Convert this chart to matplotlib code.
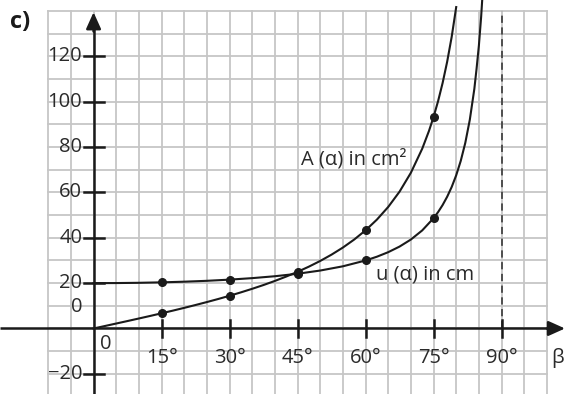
import matplotlib
matplotlib.use("Agg")
import matplotlib.pyplot as plt

plt.rcParams['font.family'] = ['Open Sans', 'DejaVu Sans']

# Marked points
alpha_pts = [15, 30, 45, 60, 75]
area_pts = [6.7, 14.4, 25.0, 43.3, 93.3]
perim_pts = [20.4, 21.5, 24.1, 30.0, 48.6]

# Curve samples
alpha_area = [0, 2.5, 5, 7.5, 10, 12.5, 15, 17.5, 20, 22.5, 25, 27.5, 30, 32.5, 35, 37.5,
              40, 42.5, 45, 47.5, 50, 52.5, 55, 57.5, 60, 62.5, 65, 67.5, 70, 72.5, 74, 75,
              76, 77, 78, 79, 80]
area_curve = [0, 1.09, 2.19, 3.29, 4.41, 5.54, 6.70, 7.88, 9.10, 10.36, 11.66, 13.01, 14.43,
              15.93, 17.51, 19.18, 20.98, 22.91, 25.0, 27.28, 29.79, 32.58, 35.70, 39.24,
              43.30, 48.02, 53.61, 60.36, 68.69, 79.29, 87.19, 93.30, 100.27, 108.29,
              117.62, 128.61, 141.78]

alpha_perim = [0, 5, 10, 15, 20, 25, 30, 35, 40, 45, 50, 55, 60, 62.5, 65, 67.5, 70, 72.5,
               75, 76, 77, 78, 79, 80, 81, 82, 83, 84, 84.5, 85, 85.5, 86]
perim_curve = [20.0, 20.04, 20.15, 20.35, 20.64, 21.03, 21.55, 22.21, 23.05, 24.14, 25.56,
               27.43, 30.0, 31.66, 33.66, 36.13, 39.24, 43.26, 48.64, 51.34, 54.45, 58.10,
               62.41, 67.59, 73.93, 81.85, 92.06, 105.67, 114.75, 124.74, 137.45, 153.35]

x_ticks = [15, 30, 45, 60, 75, 90]
x_labels = ["15°", "30°", "45°", "60°", "75°", "90°"]
y_ticks = [-20, 20, 40, 60, 80, 100, 120]
y_labels = ["−20", "20", "40", "60", "80", "100", "120"]

fs = 14.5
txt_c = '#2a2a2a'

fig = plt.figure(figsize=(5.65, 3.94), dpi=100)
ax = fig.add_axes([0, 0, 1, 1])
ax.set_xlim(-20.64, 104.0)
ax.set_ylim(-28.9, 144.9)
ax.axis('off')

grid_c = '#c6c6c6'
# square grid: 5° by 10 units
for gx in range(-10, 101, 5):
    ax.plot([gx, gx], [-30, 140], color=grid_c, lw=1.3, zorder=1, clip_on=False)
for gy in range(-20, 141, 10):
    ax.plot([-10, 100], [gy, gy], color=grid_c, lw=1.3, zorder=1)

# axes with arrows
ax.plot([-20.64, 101], [0, 0], color='#1a1a1a', lw=1.8, zorder=3, solid_capstyle='butt')
ax.annotate('', xy=(104.0, 0), xytext=(100, 0), annotation_clip=False,
            arrowprops=dict(arrowstyle='-|>,head_length=1.0,head_width=0.45',
                            color='#1a1a1a', lw=1.8, shrinkA=0, shrinkB=0), zorder=4)
ax.plot([0, 0], [-30, 134], color='#1a1a1a', lw=1.8, zorder=3, solid_capstyle='butt')
ax.annotate('', xy=(0, 139.5), xytext=(0, 131), annotation_clip=False,
            arrowprops=dict(arrowstyle='-|>,head_length=1.0,head_width=0.45',
                            color='#1a1a1a', lw=1.8, shrinkA=0, shrinkB=0), zorder=4)

# ticks
for t, lab in zip(x_ticks, x_labels):
    ax.plot([t, t], [-3.6, 3.6], color='#1a1a1a', lw=1.8, zorder=3)
    ax.text(t, -13.0, lab, ha='center', va='center', fontsize=fs, color=txt_c)
for t, lab in zip(y_ticks, y_labels):
    ax.plot([-2.2, 2.2], [t, t], color='#1a1a1a', lw=1.8, zorder=3)
    ax.text(-2.5, t, lab, ha='right', va='center', fontsize=fs, color=txt_c)
ax.text(-2.5, 9.5, "0", ha='right', va='center', fontsize=fs, color=txt_c)
ax.text(2.6, -6.8, "0", ha='center', va='center', fontsize=fs, color=txt_c)
ax.text(102.3, -13.0, "β", ha='center', va='center', fontsize=fs, color=txt_c)

# asymptote
ax.plot([90, 90], [0, 140], color='#444444', lw=1.3, ls=(0, (4, 2.5)), zorder=2)

# curves
ax.plot(alpha_area, area_curve, color='#1a1a1a', lw=1.5, zorder=5)
ax.plot(alpha_perim, perim_curve, color='#1a1a1a', lw=1.5, zorder=5)
ax.plot(alpha_pts, area_pts, 'o', color='#1a1a1a', ms=5.5, zorder=6)
ax.plot(alpha_pts, perim_pts, 'o', color='#1a1a1a', ms=5.5, zorder=6)

ax.text(45.8, 74.5, "A (α) in cm²", ha='left', va='center', fontsize=fs, color=txt_c)
ax.text(62.2, 23.8, "u (α) in cm", ha='left', va='center', fontsize=fs, color=txt_c)

fig.text(10 / 565, 1 - 22 / 394, "c)", ha='left', va='center', fontsize=17,
         fontweight='bold', color='#1a1a1a')

fig.savefig("out.png", dpi=100)
